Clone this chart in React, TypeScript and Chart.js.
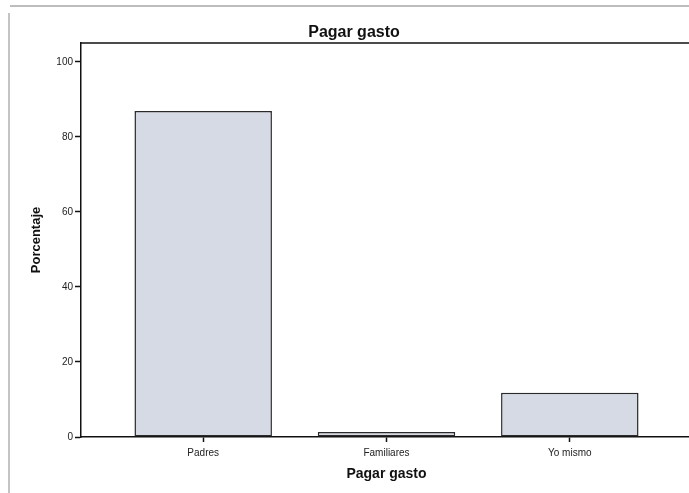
import React, { useEffect, useRef } from "react";
import { Chart, registerables } from "chart.js";

Chart.register(...registerables);

const chartTitle = "Pagar gasto";
const xAxisTitle = "Pagar gasto";
const yAxisTitle = "Porcentaje";
const categories = ["Padres", "Familiares", "Yo mismo"];
const percentages = [86.9, 1.3, 11.8];
const yTickStep = 20;
const yMax = 105;

const frameTopLine: any = {
  id: "frameTopLine",
  afterDraw(chart: any) {
    const { ctx, chartArea } = chart;
    ctx.save();
    ctx.strokeStyle = "#111";
    ctx.lineWidth = 1.5;
    ctx.beginPath();
    ctx.moveTo(chartArea.left, chartArea.top);
    ctx.lineTo(chartArea.right, chartArea.top);
    ctx.lineTo(chartArea.right, chartArea.bottom);
    ctx.stroke();
    ctx.restore();
  },
};

export default function App() {
  const ref = useRef<HTMLCanvasElement | null>(null);

  useEffect(() => {
    if (!ref.current) return;
    const chart = new Chart(ref.current, {
      type: "bar",
      data: {
        datasets: [
          {
            label: chartTitle,
            data: categories.map((c, i) => ({ x: i, y: percentages[i] })),
            backgroundColor: "#d5dae5",
            borderColor: "#2a2a2a",
            borderWidth: 1.5,
            borderSkipped: false,
            categoryPercentage: 0.75,
            barPercentage: 1,
          } as any,
        ],
      },
      options: {
        animation: false,
        responsive: false,
        maintainAspectRatio: false,
        layout: { padding: { left: 16, right: 0, top: 0, bottom: 0 } },
        plugins: {
          legend: { display: false },
          tooltip: { enabled: false },
          title: {
            display: true,
            text: chartTitle,
            color: "#111",
            font: { family: "'Liberation Sans', Arial, sans-serif", size: 16, weight: "bold" },
            padding: { top: 23, bottom: 0.8 },
          },
        },
        scales: {
          x: {
            type: "linear",
            min: -2 / 3,
            max: categories.length - 1 + 2 / 3,
            offset: false,
            afterBuildTicks: (axis: any) => {
              axis.ticks = categories.map((_, i) => ({ value: i }));
            },
            afterFit: (scale: any) => {
              scale.height = 56;
            },
            ticks: {
              autoSkip: false,
              maxRotation: 0,
              padding: 5,
              color: "#222",
              font: { family: "'Liberation Sans', Arial, sans-serif", size: 10 },
              callback: (v: any) => categories[v as number] ?? "",
            },
            grid: {
              display: true,
              offset: false,
              drawOnChartArea: false,
              drawTicks: true,
              tickLength: 5,
              tickWidth: 1.5,
              tickColor: "#111",
              color: "#111",
            },
            border: { display: true, color: "#111", width: 1.5 },
            title: {
              display: true,
              text: xAxisTitle,
              color: "#111",
              font: { family: "'Liberation Sans', Arial, sans-serif", size: 14, weight: "bold" },
              padding: { top: 0, bottom: 10 },
            },
          } as any,
          y: {
            type: "linear",
            min: 0,
            max: yMax,
            afterFit: (scale: any) => {
              scale.width = 65;
            },
            ticks: {
              stepSize: yTickStep,
              includeBounds: false,
              padding: 2,
              color: "#222",
              font: { family: "'Liberation Sans', Arial, sans-serif", size: 10 },
            },
            grid: {
              display: true,
              drawOnChartArea: false,
              drawTicks: true,
              tickLength: 6,
              tickWidth: 1.5,
              tickColor: "#111",
              color: "#111",
            },
            border: { display: true, color: "#111", width: 1.5 },
            title: {
              display: true,
              text: yAxisTitle,
              color: "#111",
              font: { family: "'Liberation Sans', Arial, sans-serif", size: 13, weight: "bold" },
              padding: { top: 13, bottom: 0 },
            },
          } as any,
        },
      },
      plugins: [frameTopLine],
    });
    return () => chart.destroy();
  }, []);

  return (
    <div
      style={{
        position: "fixed",
        left: 0,
        top: 0,
        width: 689,
        height: 493,
        overflow: "hidden",
        background: "#fff",
      }}
    >
      <div
        style={{
          position: "absolute",
          left: 10,
          top: 5,
          width: 700,
          height: 0,
          borderTop: "2px solid #bdbdbd",
        }}
      />
      <div
        style={{
          position: "absolute",
          left: 8,
          top: 13,
          width: 0,
          height: 490,
          borderLeft: "2px solid #c4c4c4",
        }}
      />
      <canvas
        ref={ref}
        width={692}
        height={493}
        style={{ position: "absolute", left: 0, top: 0, width: 692, height: 493 }}
      />
    </div>
  );
}
